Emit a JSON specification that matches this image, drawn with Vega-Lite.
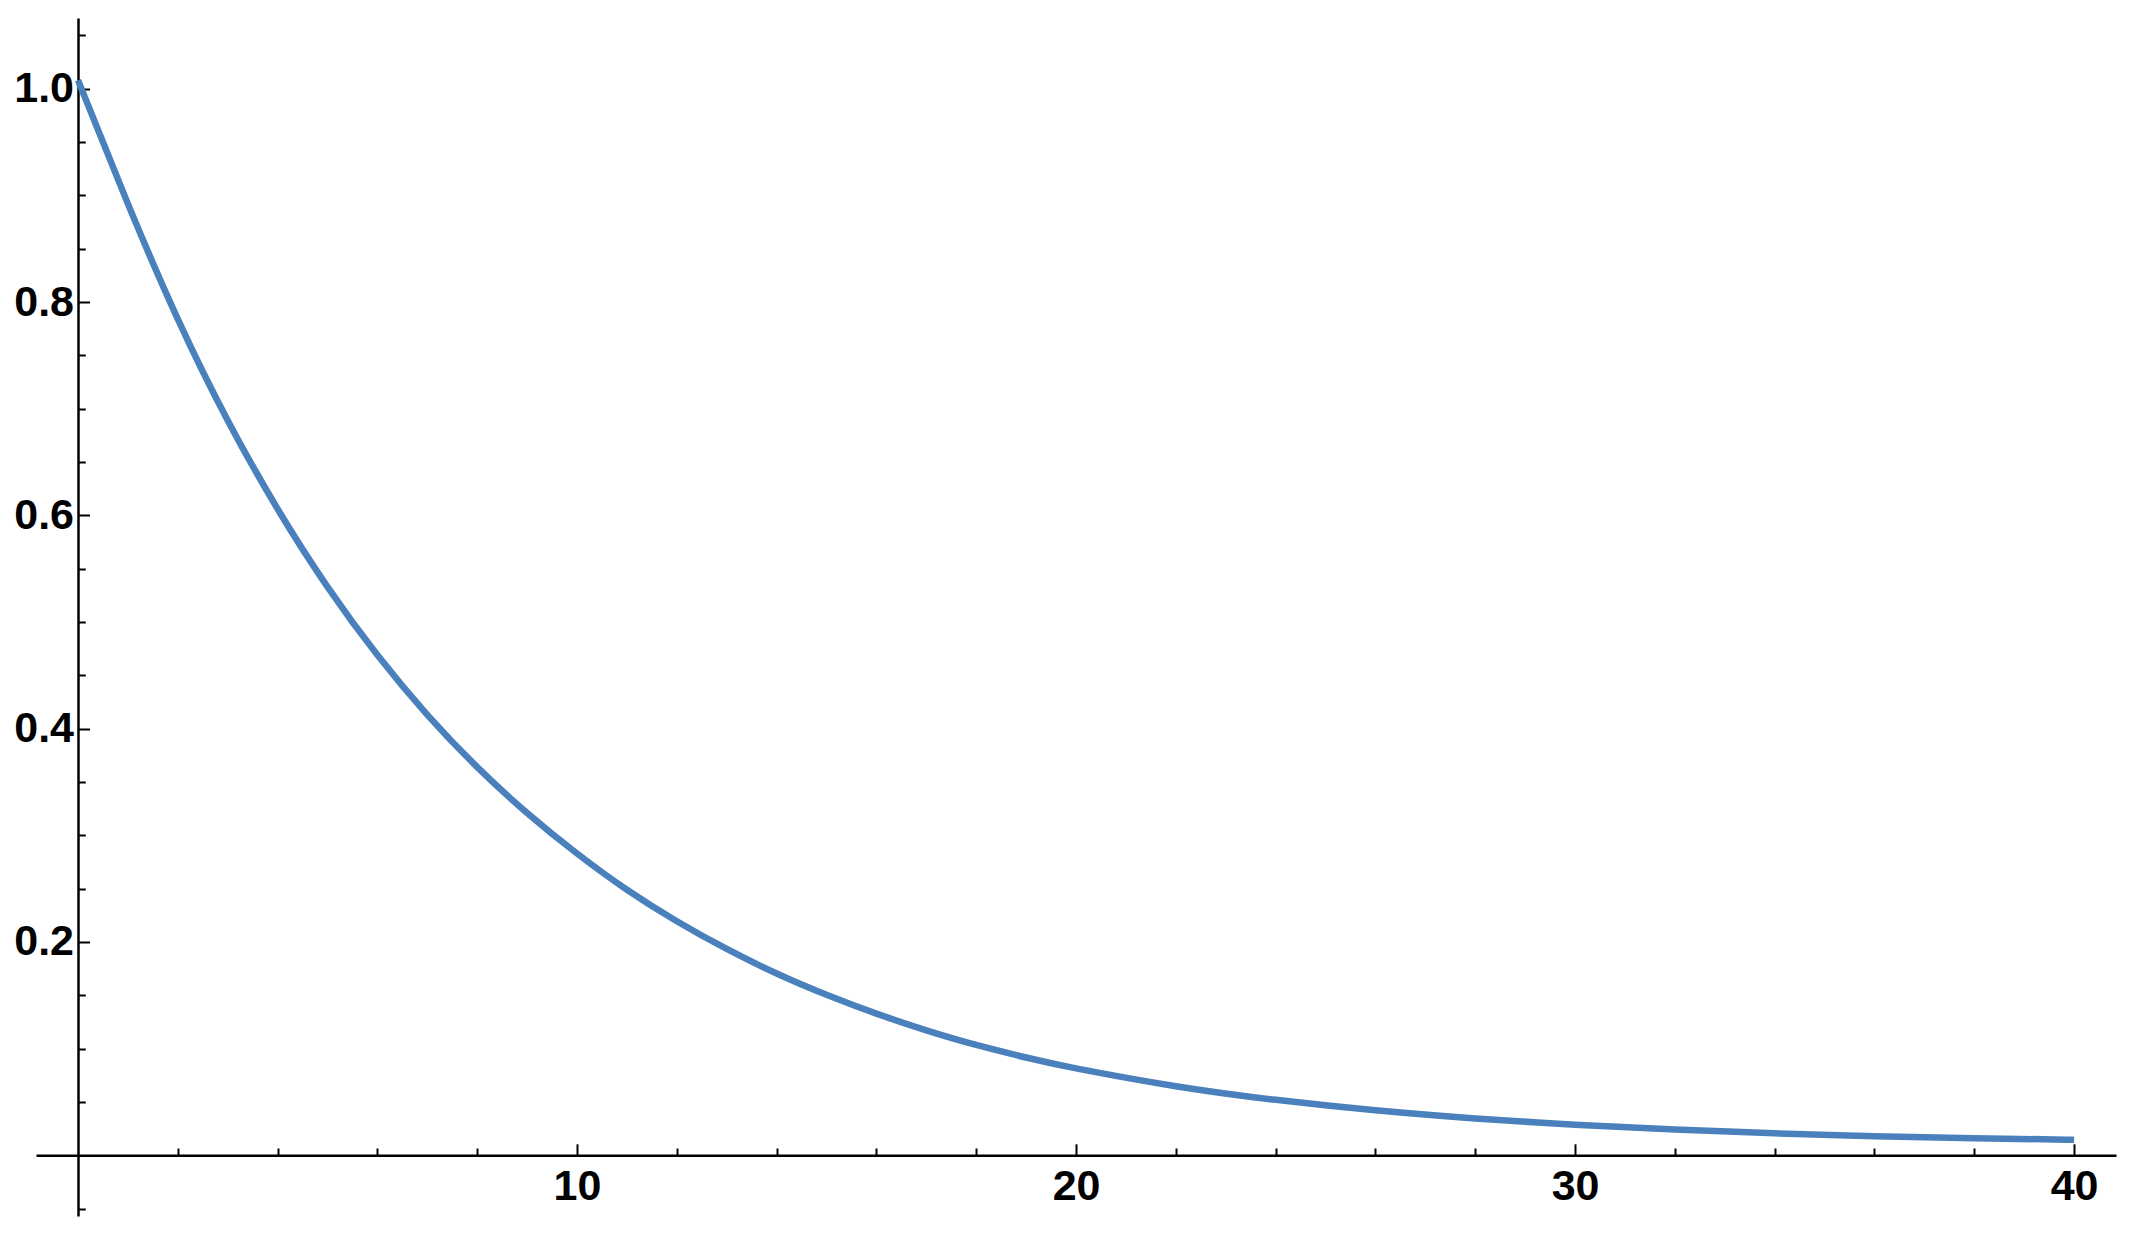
{
  "$schema": "https://vega.github.io/schema/vega-lite/v6.json",
  "width": 2080,
  "height": 1198,
  "autosize": "none",
  "padding": {"left": 36, "top": 18, "right": 23, "bottom": 21},
  "background": "white",
  "config": {
    "view": {"stroke": null},
    "axis": {
      "grid": false,
      "title": null,
      "labelFont": "Liberation Sans, Arial, Helvetica, sans-serif",
      "labelFontSize": 43,
      "labelFontWeight": "bold",
      "labelColor": "black",
      "tickColor": "black",
      "tickWidth": 2,
      "domainColor": "black",
      "domainWidth": 2.5,
      "labelFlush": false,
      "labelOverlap": false,
      "labelBound": false
    }
  },
  "data": {
    "values": [
      {"x": 0, "y": 1.008},
      {"x": 1, "y": 0.892},
      {"x": 2, "y": 0.784},
      {"x": 3, "y": 0.689},
      {"x": 4, "y": 0.606},
      {"x": 5, "y": 0.533},
      {"x": 6, "y": 0.469},
      {"x": 7, "y": 0.413},
      {"x": 8, "y": 0.364},
      {"x": 9, "y": 0.321},
      {"x": 10, "y": 0.283},
      {"x": 11, "y": 0.249},
      {"x": 12, "y": 0.2195},
      {"x": 13, "y": 0.1935},
      {"x": 14, "y": 0.1705},
      {"x": 15, "y": 0.1505},
      {"x": 16, "y": 0.1328},
      {"x": 17, "y": 0.1172},
      {"x": 18, "y": 0.1035},
      {"x": 19, "y": 0.0917},
      {"x": 20, "y": 0.0815},
      {"x": 22, "y": 0.0648},
      {"x": 24, "y": 0.052},
      {"x": 26, "y": 0.0422},
      {"x": 28, "y": 0.0346},
      {"x": 30, "y": 0.0287},
      {"x": 32, "y": 0.0241},
      {"x": 34, "y": 0.0206},
      {"x": 36, "y": 0.0179},
      {"x": 38, "y": 0.016},
      {"x": 40, "y": 0.0146}
    ]
  },
  "layer": [
    {
      "mark": {"type": "line", "color": "#4a81bd", "strokeWidth": 6.5, "interpolate": "natural", "clip": true},
      "encoding": {
        "x": {
          "field": "x", "type": "quantitative",
          "scale": {"domain": [-0.842, 40.84], "nice": false, "zero": false},
          "axis": {
            "orient": "bottom", "offset": -60.7,
            "values": [10, 20, 30, 40], "format": "d",
            "tickSize": -11.5, "labelPadding": 22
          }
        },
        "y": {
          "field": "y", "type": "quantitative",
          "scale": {"domain": [-0.0569, 1.0663], "nice": false, "zero": false},
          "axis": {
            "orient": "left", "offset": -42,
            "values": [0.2, 0.4, 0.6, 0.8, 1.0], "format": ".1f",
            "tickSize": -11.5, "labelPadding": 16
          }
        }
      }
    },
    {
      "mark": {"type": "line", "opacity": 0},
      "encoding": {
        "x": {
          "field": "x", "type": "quantitative",
          "axis": {
            "orient": "bottom", "offset": -60.7,
            "values": [2, 4, 6, 8, 12, 14, 16, 18, 22, 24, 26, 28, 32, 34, 36, 38],
            "tickSize": -7.3, "labels": false, "domain": false
          }
        },
        "y": {
          "field": "y", "type": "quantitative",
          "axis": {
            "orient": "left", "offset": -42,
            "values": [-0.05, 0.05, 0.1, 0.15, 0.25, 0.3, 0.35, 0.45, 0.5, 0.55, 0.65, 0.7, 0.75, 0.85, 0.9, 0.95, 1.05],
            "tickSize": -7.3, "labels": false, "domain": false
          }
        }
      }
    }
  ],
  "resolve": {"axis": {"x": "independent", "y": "independent"}}
}
